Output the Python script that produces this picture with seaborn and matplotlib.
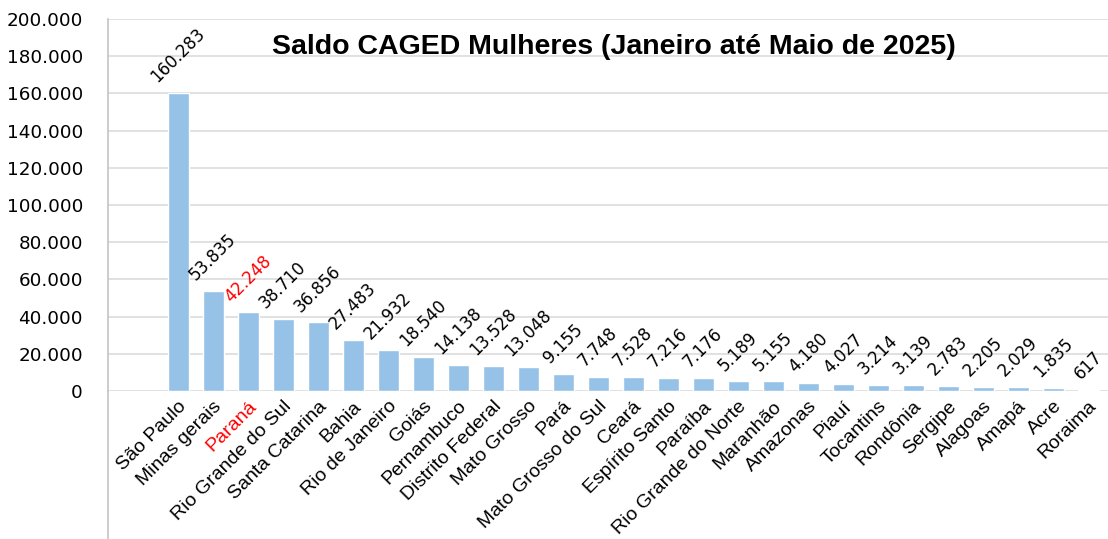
import matplotlib
matplotlib.use("Agg")
import matplotlib.pyplot as plt
import matplotlib.lines as mlines
import matplotlib.transforms as mtransforms
import seaborn as sns
import pandas as pd

# data
estados = ["São Paulo", "Minas gerais", "Paraná", "Rio Grande do Sul", "Santa Catarina",
           "Bahia", "Rio de Janeiro", "Goiás", "Pernambuco", "Distrito Federal",
           "Mato Grosso", "Pará", "Mato Grosso do Sul", "Ceará", "Espírito Santo",
           "Paraíba", "Rio Grande do Norte", "Maranhão", "Amazonas", "Piauí",
           "Tocantins", "Rondônia", "Sergipe", "Alagoas", "Amapá", "Acre", "Roraima"]
saldo = [160283, 53835, 42248, 38710, 36856, 27483, 21932, 18540, 14138, 13528,
         13048, 9155, 7748, 7528, 7216, 7176, 5189, 5155, 4180, 4027,
         3214, 3139, 2783, 2205, 2029, 1835, 617]
destaque = "Paraná"
y_ticks = [0, 20000, 40000, 60000, 80000, 100000, 120000, 140000, 160000, 180000, 200000]

BAR = "#95C2E6"
GRID = "#DEDEDE"
AXIS = "#C4C4C4"

def fmt(v):
    return f"{v:,}".replace(",", ".")

df = pd.DataFrame({"estado": estados, "saldo": saldo})

sns.set_style("white")
plt.rcParams["font.family"] = ["DejaVu Sans"]
plt.rcParams["text.color"] = "black"
plt.rcParams["xtick.color"] = "black"
plt.rcParams["ytick.color"] = "black"

fig = plt.figure(figsize=(11.08, 5.39), dpi=100)
ax = fig.add_axes([108 / 1108, 1 - 391 / 539, 1 - 108 / 1108, (391 - 19) / 539])

sns.barplot(data=df, x="estado", y="saldo", color=BAR, width=0.6,
            saturation=1, ax=ax, zorder=3)

ax.set_ylim(0, 200000)
ax.set_xlim(-2.0, 26.57)
ax.set_yticks(y_ticks)
ax.set_yticklabels([fmt(t) for t in y_ticks], fontsize=13.2)
ax.yaxis.grid(True, color=GRID, lw=1.3, zorder=0)
ax.set_axisbelow(True)
ax.tick_params(axis="y", length=0, pad=18)
ax.tick_params(axis="x", length=0, pad=2)
ax.set_xlabel("")
ax.set_ylabel("")

for s in ["top", "right", "bottom"]:
    ax.spines[s].set_visible(False)
ax.spines["left"].set_color(AXIS)
ax.spines["left"].set_linewidth(1.2)
# the vertical axis line runs down to the bottom edge of the picture
fig.add_artist(mlines.Line2D([108 / 1108, 108 / 1108], [0, 1 - 391 / 539],
                             color=AXIS, lw=1.2, transform=fig.transFigure))

ax.set_xticks(range(len(estados)))
ax.set_xticklabels(estados, rotation=45, ha="right", va="top",
                   rotation_mode="anchor", fontsize=14,
                   family=["Liberation Sans", "DejaVu Sans"])
shift = mtransforms.ScaledTranslation(0, -4 / 100, fig.dpi_scale_trans)
for lbl in ax.get_xticklabels():
    lbl.set_transform(lbl.get_transform() + shift)
    if lbl.get_text() == destaque:
        lbl.set_color("red")

for i, (nome, v) in enumerate(zip(estados, saldo)):
    ax.annotate(fmt(v), (i, v), xytext=(0, 5), textcoords="offset points",
                ha="center", va="bottom", rotation=45, fontsize=12,
                color="red" if nome == destaque else "black")

ax.text(0.506, 0.925, "Saldo CAGED Mulheres (Janeiro até Maio de 2025)",
        transform=ax.transAxes, ha="center", va="center", fontsize=20.5,
        fontweight="bold", family=["Liberation Sans", "DejaVu Sans"])

fig.savefig("out.png", dpi=100)
